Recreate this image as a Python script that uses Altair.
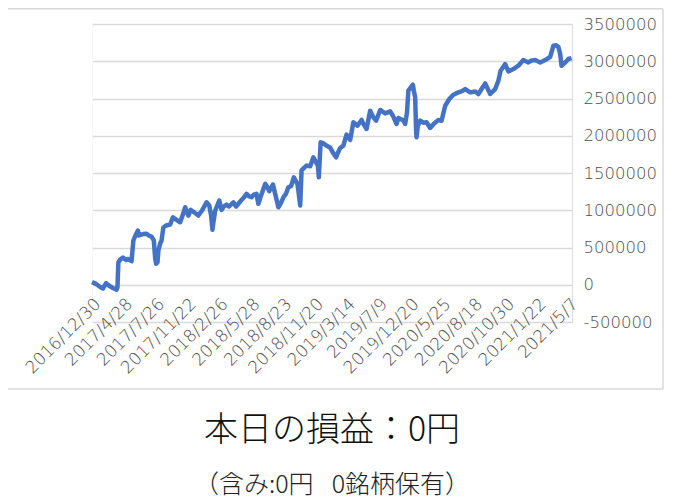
import altair as alt
import pandas as pd

# Category position (trading-day index) and cumulative profit/loss (yen)
day_index = [0, 9, 18, 24, 31, 37, 46, 54, 56, 58, 62, 68, 75, 79, 87, 91, 95, 101, 103, 112,
             120, 125, 131, 136, 139, 141, 144, 146, 150, 153, 157, 163, 172, 178, 185, 194, 200,
             205, 209, 212, 217, 224, 234, 242, 252, 258, 262, 265, 267, 271, 280, 285, 290, 296,
             301, 311, 317, 326, 334, 340, 345, 351, 356, 362, 366, 372, 381, 385, 390, 398, 403,
             410, 416, 421, 427, 432, 438, 444, 452, 454, 458, 461, 466, 472, 480, 487, 493, 497,
             499, 503, 508, 516, 524, 530, 537, 541, 546, 553, 560, 568, 575, 584, 593, 598, 604,
             612, 619, 625, 634, 645, 656, 662, 670, 674, 684, 689, 693, 696, 706, 708, 711, 713,
             714, 717, 722, 729, 736, 744, 752, 762, 769, 777, 786, 795, 806, 814, 821, 832, 843,
             850, 856, 865, 876, 887, 894, 899, 909, 916, 927, 938, 949, 960, 966, 975, 986, 997,
             1008, 1015, 1021, 1026, 1030, 1033, 1041, 1048, 1055]
profit = [35000, 11000, -30000, -50000, 21000, -10000, -43000, -67000, -36000, 299000, 339000,
          366000, 332000, 346000, 316000, 594000, 654000, 728000, 661000, 681000, 684000, 661000,
          647000, 594000, 353000, 282000, 299000, 460000, 554000, 594000, 768000, 795000, 808000,
          906000, 875000, 839000, 942000, 1040000, 969000, 929000, 1005000, 976000, 929000,
          996000, 1107000, 1063000, 929000, 737000, 835000, 996000, 1130000, 1005000, 1050000,
          1076000, 1050000, 1107000, 1050000, 1117000, 1170000, 1220000, 1190000, 1174000,
          1210000, 1220000, 1086000, 1197000, 1354000, 1318000, 1255000, 1345000, 1220000,
          1040000, 1103000, 1174000, 1224000, 1308000, 1324000, 1442000, 1354000, 1264000,
          1063000, 1532000, 1566000, 1599000, 1590000, 1710000, 1643000, 1599000, 1442000,
          1912000, 1901000, 1867000, 1841000, 1773000, 1710000, 1773000, 1836000, 1867000,
          2015000, 1944000, 2180000, 2135000, 2212000, 2149000, 2091000, 2336000, 2247000,
          2202000, 2346000, 2300000, 2327000, 2269000, 2158000, 2239000, 2212000, 2158000,
          2310000, 2605000, 2685000, 2605000, 2515000, 2068000, 1979000, 2135000, 2202000,
          2176000, 2180000, 2105000, 2162000, 2212000, 2202000, 2403000, 2493000, 2551000,
          2582000, 2598000, 2627000, 2582000, 2595000, 2560000, 2618000, 2702000, 2560000,
          2627000, 2739000, 2873000, 2962000, 2863000, 2895000, 2940000, 3016000, 2984000,
          3007000, 3016000, 2984000, 3016000, 3060000, 3208000, 3215000, 3194000, 3096000,
          2940000, 2984000, 3030000, 3043000]

# Category labels shown on the x axis (every 70th category)
date_labels = ["2016/12/30", "2017/4/28", "2017/7/26", "2017/11/22", "2018/2/26", "2018/5/28",
               "2018/8/23", "2018/11/20", "2019/3/14", "2019/7/9", "2019/12/20", "2020/5/25",
               "2020/8/18", "2020/10/30", "2021/1/22", "2021/5/7"]
label_step = 70
y_ticks = [-500000, 0, 500000, 1000000, 1500000, 2000000, 2500000, 3000000, 3500000]

title_text = "本日の損益：0円"
subtitle_text = "（含み:0円\u2002 0銘柄保有）"

df = pd.DataFrame({"idx": day_index, "profit": profit})
tick_vals = [i * label_step for i in range(len(date_labels))]
labels_js = "[" + ",".join('"%s"' % d for d in date_labels) + "]"

W, H = 480, 298
FRAME = "#d9d9d9"

line = alt.Chart(df).mark_line(color="#4472C4", strokeWidth=4.5, strokeJoin="round").encode(
    x=alt.X("idx:Q", scale=alt.Scale(domain=[0, 1056], nice=False, zero=False),
            axis=alt.Axis(values=tick_vals, labelExpr=labels_js + "[round(datum.value/%d)]" % label_step,
                          labelAngle=315, grid=False, domain=False, ticks=False, zindex=1,
                          offset=-37.6, labelPadding=11, labelFont="DejaVu Sans",
                          labelFontSize=17, labelFontWeight=200, labelColor="#4d4d4d", title=None,
                          labelOverlap=False, labelFlush=False)),
    y=alt.Y("profit:Q", scale=alt.Scale(domain=[-500000, 3500000], nice=False),
            axis=alt.Axis(orient="right", values=y_ticks, labelExpr="toString(datum.value)",
                          grid=True, gridColor=FRAME, gridWidth=1.5, domain=False, ticks=False,
                          labelPadding=11, labelFont="DejaVu Sans", labelFontSize=16.5,
                          labelFontWeight=200, labelColor="#4d4d4d", title=None)),
)

frame_df = pd.DataFrame({"a": [0]})
top_edge = alt.Chart(frame_df).mark_rule(color=FRAME, strokeWidth=1.5).encode(
    x=alt.value(-84), x2=alt.value(571), y=alt.value(-15.25))
right_edge = alt.Chart(frame_df).mark_rule(color=FRAME, strokeWidth=1.5).encode(
    x=alt.value(571), y=alt.value(-15.25), y2=alt.value(365))
bottom_edge = alt.Chart(frame_df).mark_rule(color=FRAME, strokeWidth=1.5).encode(
    x=alt.value(-84), x2=alt.value(571), y=alt.value(365))
left_mask = alt.Chart(frame_df).mark_rule(color="white", strokeWidth=2.5).encode(
    x=alt.value(-0.5), y=alt.value(-2), y2=alt.value(364))

chart = alt.layer(top_edge, right_edge, bottom_edge, left_mask, line).properties(
    width=W, height=H,
    padding={"left": 84, "top": 16, "right": 93, "bottom": 180},
    autosize=alt.AutoSizeParams(type="none"),
    title=alt.TitleParams(
        text=title_text, subtitle=subtitle_text, orient="bottom", anchor="middle",
        frame="group", offset=24, font="Noto Sans CJK JP", fontSize=34, fontWeight=300,
        color="#111111", subtitleFont="Noto Sans CJK JP", subtitleFontSize=25,
        subtitleFontWeight=300, subtitleColor="#222222", subtitlePadding=25
    ),
).configure_view(strokeWidth=0).configure(background="white")

chart.save("out.html", embed_options={"renderer": "svg", "actions": False})
